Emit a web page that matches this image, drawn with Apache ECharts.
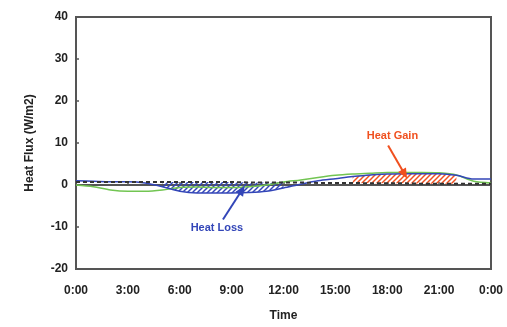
<!DOCTYPE html>
<html><head><meta charset="utf-8">
<script src="https://cdn.jsdelivr.net/npm/echarts@6/dist/echarts.min.js"></script>
<style>html,body{margin:0;padding:0;background:#fff}#c{width:507px;height:327px}</style>
</head><body><div id="c"></div>
<script>
// Hours of day (category positions)
const hours = [0,1,2,3,4,5,6,7,8,9,10,11,12,13,14,15,16,17,18,19,20,21,22,23,24];
const xTickLabels = ['0:00','3:00','6:00','9:00','12:00','15:00','18:00','21:00','0:00'];
const yTicks = [-20,-10,0,10,20,30,40];
// Heat flux series (W/m2)
const blueFlux  = [1.0,0.9,0.8,0.8,0.5,-0.4,-1.5,-1.9,-1.9,-1.9,-1.8,-1.5,-0.7,0.2,1.0,1.5,2.0,2.4,2.6,2.7,2.7,2.7,2.3,1.4,1.4];
const greenFlux = [0.0,-0.4,-1.2,-1.5,-1.5,-1.2,-0.6,-0.5,-0.6,-0.6,-0.4,0.0,0.7,1.2,1.8,2.3,2.6,2.8,3.0,3.0,3.0,2.9,2.4,0.9,0.5];
const baseline  = [0.7,0.7,0.7,0.7,0.7,0.7,0.7,0.7,0.7,0.7,0.6,0.6,0.6,0.6,0.5,0.5,0.5,0.4,0.4,0.4,0.3,0.3,0.3,0.3,0.3];
// Hatched ranges (hour indexes)
const lossRange = [5, 12];
const gainRange = [16, 22];
// Annotations [hour, value]
const lossText = [8.15, -10.2], lossArrow = [[8.5, -8.2], [9.6, -1.2]];
const gainText = [18.3, 11.7], gainArrow = [[18.05, 9.4], [19.0, 2.6]];

function hatch(color) {
  const c = document.createElement('canvas');
  c.width = 5; c.height = 5;
  const g = c.getContext('2d');
  g.strokeStyle = color; g.lineWidth = 1.5;
  g.beginPath(); g.moveTo(-1, 6); g.lineTo(6, -1); g.stroke();
  g.beginPath(); g.moveTo(-1, 1); g.lineTo(1, -1); g.stroke();
  g.beginPath(); g.moveTo(4, 6); g.lineTo(6, 4); g.stroke();
  return c;
}
function inRange(arr, r) { return arr.map((v, i) => (i >= r[0] && i <= r[1]) ? v : '-'); }
const lossBase = inRange(baseline, lossRange);
const lossBand = inRange(blueFlux.map((v, i) => v - baseline[i]), lossRange);
const gainBase = inRange(baseline, gainRange);
const gainBand = inRange(blueFlux.map((v, i) => v - baseline[i]), gainRange);

const BLUE = '#3346b8', GREEN = '#72c552', RED = '#f0501f';
const font = 'Liberation Sans, Arial, sans-serif';
const chart = echarts.init(document.getElementById('c'));
const tickShow = (i) => i % 3 === 0;
const annLabel = (txt, color) => ({ show: true, position: 'inside', formatter: txt, color: color, textBorderWidth: 0,
  fontFamily: font, fontWeight: 'bold', fontSize: 11 });
chart.setOption({
  animation: false,
  grid: { left: 76, right: 16, top: 17, bottom: 54, show: true, borderColor: '#555', borderWidth: 2, backgroundColor: 'transparent' },
  xAxis: [{
    type: 'category', data: hours, boundaryGap: false,
    name: 'Time', nameLocation: 'middle', nameGap: 41,
    nameTextStyle: { fontFamily: font, fontWeight: 'bold', fontSize: 12, color: '#222' },
    axisLine: { lineStyle: { color: '#555', width: 2 } },
    axisTick: { inside: true, length: 3, interval: (i) => tickShow(i) && i > 0 && i < 24, lineStyle: { color: '#555', width: 1.5 } },
    axisLabel: { interval: (i) => tickShow(i), margin: 16, fontFamily: font, fontWeight: 'bold', fontSize: 12, color: '#222',
      formatter: (v, i) => xTickLabels[i / 3] },
    splitLine: { show: false }
  }, {
    type: 'value', min: 0, max: 24, show: false
  }],
  yAxis: {
    type: 'value', min: yTicks[0], max: yTicks[yTicks.length - 1], interval: 10,
    name: 'Heat Flux (W/m2)', nameLocation: 'middle', nameGap: 40,
    nameTextStyle: { fontFamily: font, fontWeight: 'bold', fontSize: 12, color: '#222' },
    axisLine: { show: true, lineStyle: { color: '#555', width: 2 } },
    axisTick: { show: true, inside: true, length: 3, lineStyle: { color: '#555', width: 1.5 } },
    axisLabel: { margin: 8, fontFamily: font, fontWeight: 'bold', fontSize: 12, color: '#222' },
    splitLine: { show: false }
  },
  series: [
    { type: 'line', data: lossBase, stack: 'loss', stackStrategy: 'all', symbol: 'none', silent: true, lineStyle: { opacity: 0 } },
    { type: 'line', data: lossBand, stack: 'loss', stackStrategy: 'all', symbol: 'none', silent: true, lineStyle: { opacity: 0 },
      areaStyle: { color: { image: hatch(BLUE), repeat: 'repeat' }, opacity: 1 } },
    { type: 'line', data: gainBase, stack: 'gain', stackStrategy: 'all', symbol: 'none', silent: true, lineStyle: { opacity: 0 } },
    { type: 'line', data: gainBand, stack: 'gain', stackStrategy: 'all', symbol: 'none', silent: true, lineStyle: { opacity: 0 },
      areaStyle: { color: { image: hatch(RED), repeat: 'repeat' }, opacity: 1 } },
    { type: 'line', data: greenFlux, symbol: 'none', smooth: 0.3, lineStyle: { color: GREEN, width: 1.5 } },
    { type: 'line', data: blueFlux, symbol: 'none', smooth: 0.3, lineStyle: { color: BLUE, width: 1.5 } },
    { type: 'line', data: baseline, symbol: 'none', lineStyle: { color: '#333', width: 2, type: [4, 3] } },
    {
      type: 'scatter', xAxisIndex: 1, symbolSize: 0, itemStyle: { opacity: 1 },
      data: [
        { value: lossText, label: annLabel('Heat Loss', BLUE) },
        { value: gainText, label: annLabel('Heat Gain', RED) }
      ],
      markLine: {
        silent: true, symbol: ['none', 'triangle'], symbolSize: [9, 10], label: { show: false },
        data: [
          [{ coord: lossArrow[0], lineStyle: { color: BLUE, width: 2, type: 'solid' } }, { coord: lossArrow[1] }],
          [{ coord: gainArrow[0], lineStyle: { color: RED, width: 2, type: 'solid' } }, { coord: gainArrow[1] }]
        ]
      }
    }
  ]
});
</script></body></html>
